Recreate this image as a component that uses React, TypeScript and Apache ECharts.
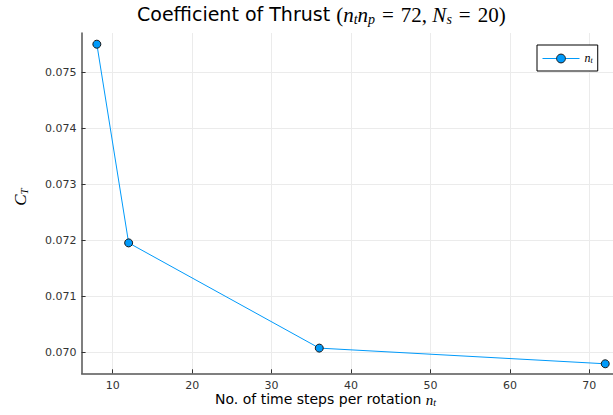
import React, { useEffect, useRef } from 'react';
import * as echarts from 'echarts';

const nt = [8, 12, 36, 72];
const ct = [0.07551, 0.07196, 0.07008, 0.0698];
const xTicks = [10, 20, 30, 40, 50, 60, 70];
const yTicks = [0.07, 0.071, 0.072, 0.073, 0.074, 0.075];
const xRange = [6.08, 73.92];
const yRange = [0.06963, 0.07571];

const BLUE = '#009AFA';
const SANS = '"DejaVu Sans", sans-serif';
const SERIF = '"Liberation Serif", "DejaVu Serif", serif';

function mathRich(size: number, msize: number, sub: number, drop: number, lh: number) {
  return {
    t: { fontFamily: SANS, fontSize: size, color: '#000', lineHeight: lh, verticalAlign: 'top' },
    m: { fontFamily: SERIF, fontStyle: 'italic', fontSize: msize, color: '#000', lineHeight: lh, verticalAlign: 'top' },
    p: { fontFamily: SERIF, fontSize: msize, color: '#000', lineHeight: lh, verticalAlign: 'top' },
    s: { fontFamily: SERIF, fontStyle: 'italic', fontSize: sub, color: '#000', lineHeight: lh, verticalAlign: 'top', padding: [drop, 0, 0, 0] },
  };
}

export default function App() {
  const ref = useRef<HTMLDivElement>(null);
  useEffect(() => {
    const chart = echarts.init(ref.current!, null, { renderer: 'svg' });
    const option: any = {
      animation: false,
      backgroundColor: '#fff',
      grid: { left: 81.6, right: 0.5, top: 33, bottom: 41.7, containLabel: false },
      xAxis: {
        type: 'value',
        min: xRange[0],
        max: xRange[1],
        axisLine: { show: true, lineStyle: { color: '#555', width: 1.5 } },
        axisTick: { show: true, inside: true, length: 4, lineStyle: { color: '#333' }, customValues: xTicks },
        axisLabel: { customValues: xTicks, fontFamily: SANS, fontSize: 11, color: '#333', margin: 7 },
        splitLine: { show: true, lineStyle: { color: '#ebebeb', width: 1 } },
      },
      yAxis: {
        type: 'value',
        min: yRange[0],
        max: yRange[1],
        axisLine: { show: true, lineStyle: { color: '#555', width: 1.5 } },
        axisTick: { show: true, inside: true, length: 4, lineStyle: { color: '#333' }, customValues: yTicks },
        axisLabel: {
          customValues: yTicks,
          fontFamily: SANS,
          fontSize: 11,
          color: '#333',
          margin: 5,
          formatter: (v: number) => v.toFixed(3),
        },
        splitLine: { show: true, lineStyle: { color: '#ebebeb', width: 1 } },
      },
      legend: {
        left: 537,
        top: 45,
        orient: 'vertical',
        padding: [7, 5, 7, 5],
        itemWidth: 37,
        itemHeight: 11,
        itemGap: 0,
        borderColor: '#000',
        borderWidth: 1,
        borderRadius: 0,
        backgroundColor: '#fff',
        data: ['nt'],
        lineStyle: { width: 1 },
        itemStyle: { borderWidth: 1 },
        formatter: () => '{m|n}{s|t}',
        textStyle: { rich: mathRich(11, 12, 8, 4, 13) },
      },
      series: [
        {
          name: 'nt',
          type: 'line',
          data: nt.map((x, i) => [x, ct[i]]),
          symbol: 'circle',
          symbolSize: 8,
          showAllSymbol: true,
          lineStyle: { color: BLUE, width: 1 },
          itemStyle: { color: BLUE, borderColor: '#1a1a1a', borderWidth: 1 },
        },
      ],
      graphic: [
        {
          type: 'text',
          x: 137,
          y: 4,
          style: {
            text: '{t|Coefficient of Thrust }{p|(}{m|n}{s|t}{m|n}{s|p}{p|\u2004=\u200472, }{m|N}{s|s}{p|\u2004=\u200420)}',
            rich: mathRich(19, 21, 14, 8, 23),
          },
        },
        {
          type: 'text',
          x: 215,
          y: 392,
          style: {
            text: '{t|No. of time steps per rotation }{m|n}{s|t}',
            rich: mathRich(14, 15, 10, 5, 15),
          },
        },
        {
          type: 'text',
          x: 21,
          y: 197,
          rotation: Math.PI / 2,
          style: {
            text: '{m|C}{s|T}',
            rich: mathRich(15, 17, 11, 6, 18),
            align: 'center',
            verticalAlign: 'middle',
          },
        },
      ],
    };
    chart.setOption(option);
    return () => chart.dispose();
  }, []);
  return (
    <div style={{ position: 'fixed', left: 0, top: 0, width: 613, height: 415, overflow: 'hidden', background: '#fff' }}>
      <div ref={ref} style={{ width: 621, height: 415 }} />
    </div>
  );
}
